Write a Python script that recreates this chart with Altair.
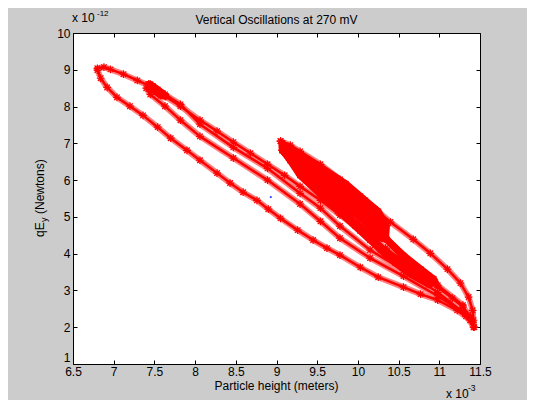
import altair as alt
import pandas as pd

FONT = "Liberation Sans"

# ---------------- text ----------------
title_text = "Vertical Oscillations at 270 mV"
x_title = "Particle height (meters)"
y_title_main = "qE"
y_title_sub = "y"
y_title_rest = "(Newtons)"
x_exp_base = "x 10"
x_exp_power = "-3"
y_exp_base = "x 10"
y_exp_power = "-12"

x_ticks = [6.5, 7, 7.5, 8, 8.5, 9, 9.5, 10, 10.5, 11, 11.5]
y_ticks = [1, 2, 3, 4, 5, 6, 7, 8, 9, 10]

# ---------------- data (x in 1e-3 m, y in 1e-12 N) ----------------
loopA_x = [6.80, 6.88, 6.96, 7.12, 7.29, 7.45, 7.63, 7.82, 8.06, 8.27, 8.47, 8.68, 8.89, 9.10,
           9.29, 9.54, 9.78, 9.97, 10.15, 10.36, 10.56, 10.77, 10.98, 11.16, 11.29, 11.38, 11.42,
           11.38, 11.22, 10.98, 10.77, 10.56, 10.25, 10.03, 9.78, 9.62, 9.45, 9.26, 9.05, 8.90,
           8.76, 8.59, 8.43, 8.27, 8.06, 7.90, 7.70, 7.54, 7.36, 7.20, 7.04, 6.92, 6.84, 6.80]
loopA_y = [9.04, 9.07, 9.01, 8.88, 8.71, 8.55, 8.28, 8.01, 7.63, 7.33, 7.03, 6.73, 6.43, 6.13,
           5.83, 5.45, 5.05, 4.75, 4.37, 4.07, 3.74, 3.42, 3.09, 2.79, 2.55, 2.30, 2.00,
           2.19, 2.46, 2.74, 2.90, 3.09, 3.36, 3.63, 3.96, 4.15, 4.37, 4.64, 4.96, 5.21,
           5.45, 5.67, 5.92, 6.19, 6.54, 6.81, 7.14, 7.44, 7.76, 8.01, 8.25, 8.52, 8.77, 8.99]

loopB_x = [7.43, 7.45, 7.63, 7.82, 8.06, 8.47, 8.89, 9.29, 9.54, 9.78, 10.15, 10.56, 10.98, 11.26,
           11.41, 11.32, 10.98, 10.56, 10.15, 9.78, 9.54, 9.29, 8.89, 8.47, 8.06, 7.82, 7.63, 7.45,
           7.40, 7.43]
loopB_y = [8.60, 8.61, 8.33, 8.06, 7.52, 6.89, 6.32, 5.64, 5.24, 4.75, 4.10, 3.55, 2.95, 2.46,
           2.14, 2.36, 2.85, 3.39, 3.88, 4.42, 4.88, 5.35, 6.00, 6.60, 7.19, 7.63, 8.01, 8.33,
           8.50, 8.60]

loopC_x = [9.05, 9.17, 9.29, 9.54, 9.78, 10.03, 10.21, 10.40, 10.68, 10.89, 11.10, 11.26, 11.36,
           11.41, 11.42, 11.43, 11.33, 11.29, 10.98, 10.56, 10.34, 10.15, 9.99, 9.75, 9.54, 9.33,
           9.17, 9.07, 9.05]
loopC_y = [7.06, 6.95, 6.78, 6.43, 6.02, 5.56, 5.21, 4.86, 4.39, 4.01, 3.58, 3.20, 2.82,
           2.46, 2.19, 2.00, 2.30, 2.60, 3.14, 3.80, 4.15, 4.48, 4.75, 5.15, 5.64, 6.11,
           6.54, 6.81, 7.06]

loopD_x = [9.07, 9.29, 9.54, 9.78, 10.03, 10.20, 10.36, 10.56, 10.77, 10.93, 10.95, 10.87, 10.64,
           10.46, 10.28, 10.03, 9.78, 9.54, 9.29, 9.15, 9.07, 9.07]
loopD_y = [7.00, 6.68, 6.30, 5.88, 5.38, 4.85, 4.38, 3.95, 3.58, 3.31, 3.22, 3.16, 3.45,
           3.75, 4.10, 4.62, 5.12, 5.62, 6.13, 6.60, 6.81, 7.00]

loopE_x = [9.08, 9.29, 9.54, 9.78, 10.03, 10.25, 10.52, 10.77, 10.91, 10.83, 10.58, 10.34, 10.09,
           9.85, 9.60, 9.35, 9.17, 9.08, 9.08]
loopE_y = [6.92, 6.60, 6.20, 5.75, 5.20, 4.60, 4.02, 3.55, 3.28, 3.25, 3.63, 4.05, 4.58,
           5.07, 5.59, 6.11, 6.54, 6.81, 6.92]

loopF_x = [9.11, 9.54, 9.85, 10.09, 10.25, 10.35, 10.34, 10.20, 9.99, 9.78, 9.54, 9.29, 9.13, 9.11]
loopF_y = [6.89, 6.35, 5.90, 5.45, 5.15, 4.75, 4.40, 4.45, 4.80, 5.15, 5.62, 6.20, 6.73, 6.89]

loopH_x = [9.10, 9.35, 9.60, 9.85, 10.10, 10.30, 10.34, 10.15, 9.90, 9.65, 9.40, 9.15, 9.10]
loopH_y = [6.80, 6.35, 5.90, 5.45, 5.00, 4.62, 4.45, 4.75, 5.20, 5.65, 6.15, 6.65, 6.80]

loopI_x = [9.20, 9.50, 9.80, 10.05, 10.25, 10.32, 10.20, 9.95, 9.70, 9.40, 9.20]
loopI_y = [6.70, 6.25, 5.75, 5.30, 4.95, 4.70, 4.90, 5.35, 5.85, 6.35, 6.70]

loopG_x = [7.43, 7.48, 7.54, 7.60, 7.64, 7.58, 7.52, 7.46, 7.43]
loopG_y = [8.60, 8.56, 8.46, 8.36, 8.28, 8.30, 8.40, 8.50, 8.60]

blue_x = [8.93]
blue_y = [5.54]

loops = {
    "A": (loopA_x, loopA_y),
    "B": (loopB_x, loopB_y),
    "C": (loopC_x, loopC_y),
    "D": (loopD_x, loopD_y),
    "E": (loopE_x, loopE_y),
    "F": (loopF_x, loopF_y),
    "H": (loopH_x, loopH_y),
    "I": (loopI_x, loopI_y),
    "G": (loopG_x, loopG_y),
}
sparse_names = ["A", "B", "C"]

rows = []
for name, (xs, ys) in loops.items():
    for i, (xv, yv) in enumerate(zip(xs, ys)):
        rows.append({"x": xv, "y": yv, "loop": name, "step": i})
df = pd.DataFrame(rows)
df_sparse = df[df["loop"].isin(sparse_names)]
df_dense = df[~df["loop"].isin(sparse_names)]
df_blue = pd.DataFrame({"x": blue_x, "y": blue_y})

# ---------------- layout ----------------
W, H = 407, 331
X_SCALE = alt.Scale(domain=[6.5, 11.5], nice=False, zero=False)
Y_SCALE = alt.Scale(domain=[1, 10], nice=False, zero=False)

common = dict(grid=False, domain=False, ticks=True, tickSize=4, offset=-4,
              tickColor="black", tickWidth=1, labelFont=FONT, labelFontSize=12,
              labelColor="black", labelFlush=False, labelOverlap=False, title=None)
x_bottom = alt.Axis(orient="bottom", values=x_ticks, format="~r", labelPadding=2, **common)
x_top = alt.Axis(orient="top", values=x_ticks, labels=False, **common)
y_left = alt.Axis(orient="left", values=y_ticks[1:], format="~r", labelPadding=3, **common)
y_left_low = alt.Axis(orient="left", values=y_ticks[:1], format="~r", labelPadding=3,
                      labelBaseline="bottom", **common)
y_right = alt.Axis(orient="right", values=y_ticks, labels=False, **common)

STAR = "M-1,0L1,0M0,-1L0,1M-0.72,-0.72L0.72,0.72M-0.72,0.72L0.72,-0.72"


def enc(chart, xa, ya):
    return chart.encode(
        x=alt.X("x:Q", scale=X_SCALE, axis=xa),
        y=alt.Y("y:Q", scale=Y_SCALE, axis=ya),
    )


halo = enc(alt.Chart(df).mark_line(color="#ff8080", strokeWidth=6, strokeJoin="round",
                                   strokeCap="round"), x_bottom, y_left).encode(
    detail="loop:N", order=alt.Order("step:Q"))
core_sparse = enc(alt.Chart(df_sparse).mark_line(color="#ff0000", strokeWidth=2.5,
                                                 strokeJoin="round"), x_top, y_right).encode(
    detail="loop:N", order=alt.Order("step:Q"))
core_dense = enc(alt.Chart(df_dense).mark_line(color="#ff0000", strokeWidth=7,
                                               strokeJoin="round", strokeCap="round"),
                 None, None).encode(detail="loop:N", order=alt.Order("step:Q"))
stars = enc(alt.Chart(df).mark_point(shape=STAR, size=60, filled=False, color="#ff0000",
                                     strokeWidth=1.2, opacity=1), None, None)
blue = enc(alt.Chart(df_blue).mark_circle(size=5, color="#3344ff", opacity=1), None, y_left_low)


def label(text, x, y, size=12, angle=0, align="left"):
    return alt.Chart(pd.DataFrame({"t": [text]})).mark_text(
        font=FONT, fontSize=size, angle=angle, align=align, baseline="alphabetic",
        color="black").encode(x=alt.value(x), y=alt.value(y), text="t:N")


texts = [
    label(title_text, W / 2, -9, align="center"),
    label(x_title, W / 2, H + 26, align="center"),
    label(x_exp_base, 373, H + 34),
    label(x_exp_power, 395, H + 27, size=8.5),
    label(y_exp_base, -1, -11),
    label(y_exp_power, 24, -17, size=8),
    label(y_title_main, -29, 204, angle=270),
    label(y_title_sub, -26, 189, size=9, angle=270),
    label(y_title_rest, -29, 181, angle=270),
]

chart = alt.layer(halo, core_sparse, core_dense, stars, blue, *texts).resolve_axis(
    x="independent", y="independent"
).properties(
    width=W, height=H,
    background="#cccccc",
    padding={"left": 65, "top": 25, "right": 47, "bottom": 36},
    autosize=alt.AutoSizeParams(type="none"),
).configure_view(stroke="black", strokeWidth=1, fill="white")

chart.save("out.html", embed_options={"renderer": "svg", "actions": False})
